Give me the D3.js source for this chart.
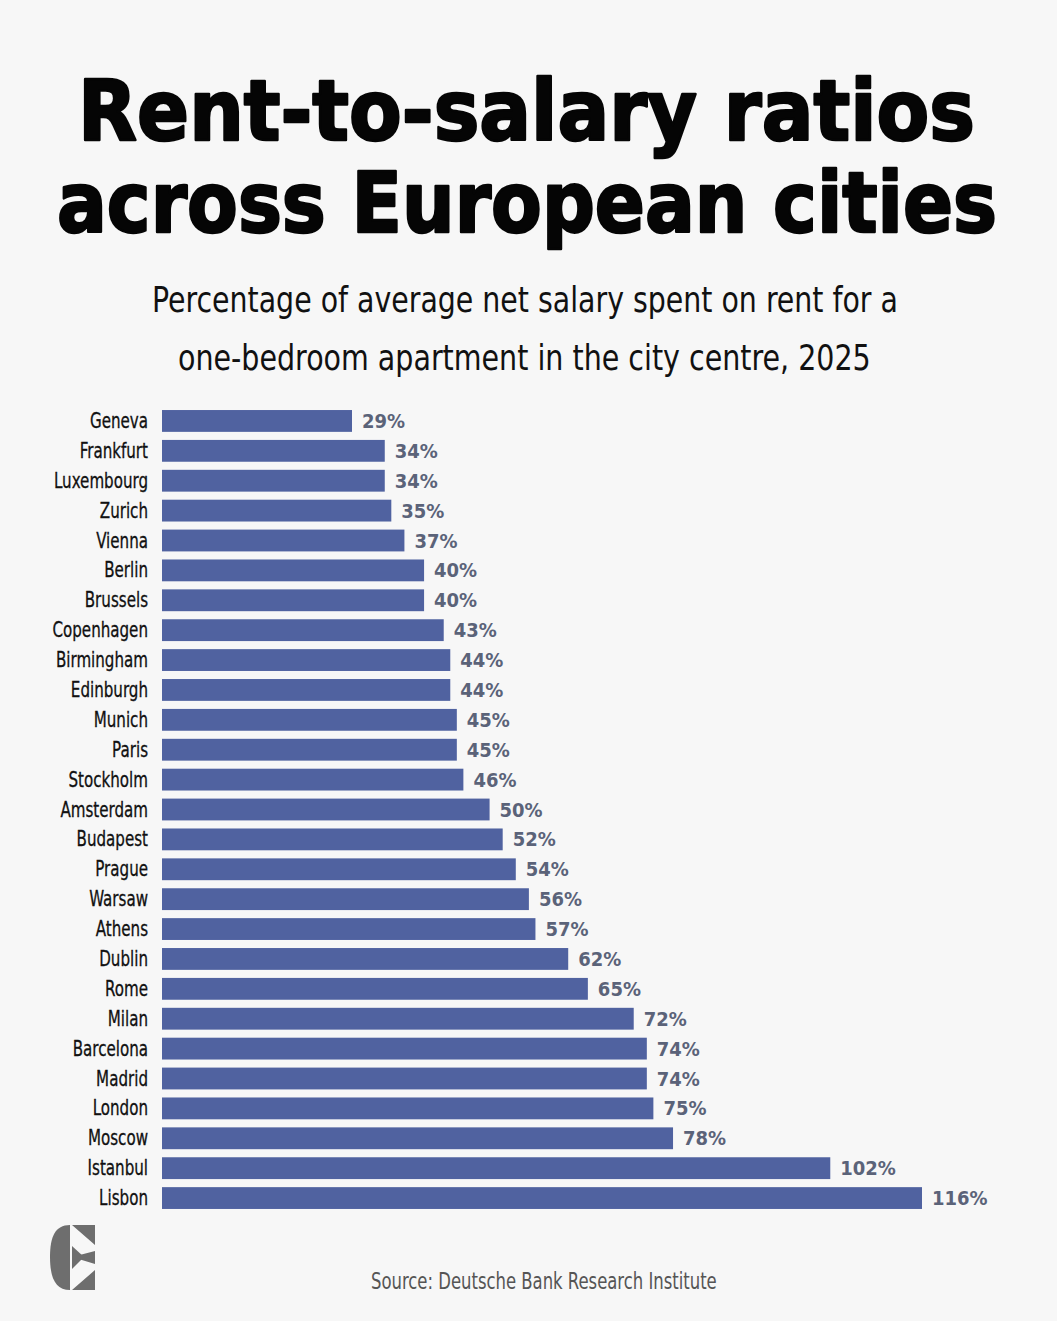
<!DOCTYPE html>
<html>
<head>
<meta charset="utf-8">
<script src="https://cdn.jsdelivr.net/npm/d3@7"></script>
<style>
  body { margin: 0; background: #f7f7f7; }
  svg { display: block; }
</style>
</head>
<body>
<svg id="chart"></svg>
<script>
let cities = ['Geneva', 'Frankfurt', 'Luxembourg', 'Zurich', 'Vienna', 'Berlin', 'Brussels',
  'Copenhagen', 'Birmingham', 'Edinburgh', 'Munich', 'Paris', 'Stockholm', 'Amsterdam',
  'Budapest', 'Prague', 'Warsaw', 'Athens', 'Dublin', 'Rome', 'Milan', 'Barcelona',
  'Madrid', 'London', 'Moscow', 'Istanbul', 'Lisbon']
let ratios = [29, 34, 34, 35, 37, 40, 40, 43, 44, 44, 45, 45, 46, 50, 52, 54, 56, 57,
  62, 65, 72, 74, 74, 75, 78, 102, 116]

let titleLines = ['Rent-to-salary ratios', 'across European cities']
let subtitleLines = ['Percentage of average net salary spent on rent for a',
  'one-bedroom apartment in the city centre, 2025']
let source = 'Source: Deutsche Bank Research Institute'

let width = 1057
let height = 1321
let narrow = '"Liberation Sans Narrow", "DejaVu Sans Condensed", "Roboto", sans-serif'

let svg = d3.select('#chart')
  .attr('width', width)
  .attr('height', height)

svg.append('rect')
  .attr('width', width)
  .attr('height', height)
  .attr('fill', '#f7f7f7')

// squeeze a text horizontally so it spans w pixels from x
let fitText = (sel, x, y, w) => {
  let natural = sel.node().getComputedTextLength()
  sel.attr('transform', 'translate(' + x + ',' + y + ') scale(' + (w / natural) + ',1)')
}

let titleSpans = [[78, 897, 140], [57, 940, 232]]
titleLines.forEach((line, i) => {
  let t = svg.append('text')
    .style('font-family', '"DejaVu Sans", sans-serif')
    .style('font-weight', 900)
    .style('font-size', '84px')
    .attr('fill', '#050505')
    .attr('stroke', '#050505')
    .attr('stroke-width', 2.5)
    .attr('stroke-linejoin', 'round')
    .text(line)
  fitText(t, titleSpans[i][0], titleSpans[i][2], titleSpans[i][1])
})

let subSpans = [[152, 746, 312], [178, 693, 370]]
subtitleLines.forEach((line, i) => {
  let t = svg.append('text')
    .style('font-family', narrow)
    .style('font-size', '36px')
    .attr('fill', '#111')
    .text(line)
  fitText(t, subSpans[i][0], subSpans[i][2], subSpans[i][1])
})

let xScale = d3.scaleLinear()
  .domain([0, 116])
  .range([162, 922])

let yScale = d3.scaleBand()
  .domain(cities)
  .range([406, 1213])
  .paddingInner(0.27)
  .paddingOuter(0.135)

let rows = svg.append('g')
  .selectAll('g')
  .data(cities)
  .enter()
  .append('g')

rows.append('rect')
  .attr('x', xScale(0))
  .attr('y', (c) => yScale(c))
  .attr('height', yScale.bandwidth())
  .attr('width', (c, i) => xScale(ratios[i]) - xScale(0))
  .attr('fill', '#5062a0')

rows.append('text')
  .attr('transform', (c) => 'translate(148,' + (yScale(c) + yScale.bandwidth() / 2 + 7) + ') scale(0.8,1)')
  .attr('text-anchor', 'end')
  .style('font-family', narrow)
  .style('font-size', '21px')
  .attr('fill', '#111')
  .attr('stroke', '#111')
  .attr('stroke-width', 0.3)
  .text((c) => c)

rows.append('text')
  .attr('transform', (c, i) => 'translate(' + (xScale(ratios[i]) + 10) + ',' + (yScale(c) + yScale.bandwidth() / 2 + 7) + ') scale(0.9,1)')
  .style('font-family', '"DejaVu Sans", sans-serif')
  .style('font-weight', 'bold')
  .style('font-size', '20px')
  .attr('fill', '#5b6379')
  .text((c, i) => ratios[i] + '%')

// logo
let logo = svg.append('g')
  .attr('transform', 'translate(50,1225)')
  .attr('fill', '#6e6e6e')
logo.append('path')
  .attr('d', 'M20,0 L20,65 C5,65 0,52 0,32 C0,12 5,0 20,0 Z')
logo.append('path')
  .attr('d', 'M22,0 L45,0 L45,20 Z M45,26 L45,39 L22,32 Z M22,65 L45,45 L45,65 Z')
logo.append('path')
  .attr('d', 'M22,21 L34,32 L22,44 Z')

let src = svg.append('text')
  .style('font-family', narrow)
  .style('font-size', '23px')
  .attr('fill', '#555')
  .text(source)
fitText(src, 371, 1289, 346)
</script>
</body>
</html>
